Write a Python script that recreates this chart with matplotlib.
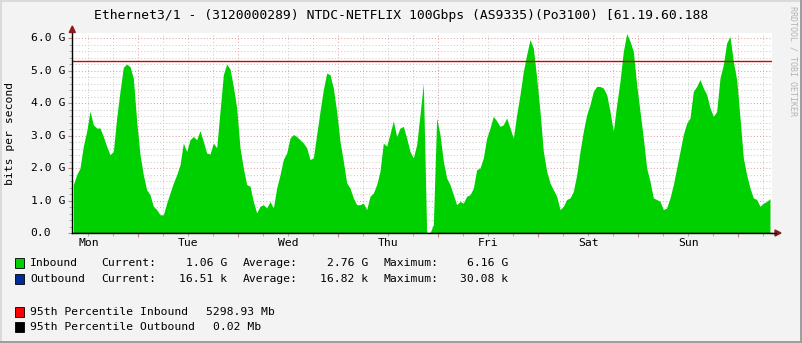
import numpy as np
import matplotlib.pyplot as plt
from matplotlib.patches import Rectangle, Polygon
from matplotlib.lines import Line2D
from matplotlib.transforms import blended_transform_factory

plt.rcParams['font.family'] = ['DejaVu Sans Mono']

# ---- data -------------------------------------------------------------
title = "Ethernet3/1 - (3120000289) NTDC-NETFLIX 100Gbps (AS9335)(Po3100) [61.19.60.188"
day_names = ['Mon', 'Tue', 'Wed', 'Thu', 'Fri', 'Sat', 'Sun']

# inbound traffic in Gbit/s, one sample every 48 min, first sample Mon 08:24
start_hour = 8.4
step_hours = 0.8
inbound_g = [
    1.49, 1.79, 2.00, 2.67, 3.13, 3.75, 3.33, 3.23, 3.23, 2.97,
    2.67, 2.41, 2.51, 3.54, 4.36, 5.10, 5.20, 5.12, 4.77, 3.44,
    2.41, 1.79, 1.33, 1.18, 0.82, 0.72, 0.56, 0.56, 0.92, 1.23,
    1.54, 1.79, 2.10, 2.77, 2.51, 2.87, 2.97, 2.87, 3.15, 2.82,
    2.46, 2.43, 2.77,
    2.62, 3.74, 4.87, 5.20, 5.05, 4.51, 3.85, 2.62, 2.00, 1.49,
    1.44, 0.97, 0.62, 0.82, 0.87, 0.77, 0.97, 0.77, 1.38, 1.79,
    2.26, 2.46, 2.92, 3.03, 2.97, 2.87, 2.77, 2.62, 2.26, 2.31,
    3.03, 3.74, 4.41, 4.92, 4.87, 4.46, 3.74, 2.82, 2.21, 1.54,
    1.38, 1.08,
    0.87, 0.87, 0.92, 0.72, 1.13, 1.23, 1.49, 1.90, 2.77, 2.67,
    3.05, 3.45, 2.97, 3.23, 3.28, 2.92, 2.51, 2.31, 2.72, 3.64,
    4.60, 0.00, 0.00, 0.26, 3.54, 3.03, 2.21, 1.69, 1.49, 1.18,
    0.87, 0.97, 0.92, 1.13, 1.18, 1.38, 1.95, 2.00, 2.31, 2.92,
    3.23, 3.59,
    3.45, 3.28, 3.33, 3.54, 3.23, 2.92, 3.64, 4.26, 4.97, 5.49,
    5.95, 5.69, 4.77, 3.74, 2.51, 1.90, 1.54, 1.33, 1.13, 0.72,
    0.82, 1.03, 1.08, 1.28, 1.79, 2.51, 3.13, 3.64, 3.95, 4.36,
    4.51, 4.51, 4.46, 4.26, 3.74, 3.13, 3.95, 4.67, 5.59, 6.14,
    5.90, 5.59,
    4.56, 3.74, 2.92, 2.00, 1.59, 1.08, 1.03, 0.97, 0.72, 0.77,
    1.08, 1.49, 2.00, 2.51, 3.03, 3.38, 3.54, 4.36, 4.51, 4.72,
    4.46, 4.26, 3.85, 3.59, 3.74, 4.77, 5.18, 5.85, 6.05, 5.28,
    4.72, 3.54, 2.31, 1.79, 1.38, 1.08, 1.03, 0.82, 0.92, 0.97,
    1.06,
]
pct95_in_g = 5.29893
pct95_out_g = 0.00000002

legend_rows = [
    ('#00CF00', 'Inbound', ['1.06 G', '2.76 G', '6.16 G']),
    ('#002A97', 'Outbound', ['16.51 k', '16.82 k', '30.08 k']),
]
pct_rows = [
    ('#FF0000', '95th Percentile Inbound', '5298.93 Mb'),
    ('#000000', '95th Percentile Outbound', '0.02 Mb'),
]

# ---- figure -----------------------------------------------------------
W, H = 803, 343


def fx(x):
    return x / W


def fy(y):
    return 1 - y / H


fig = plt.figure(figsize=(W / 100, H / 100), dpi=100, facecolor='#F3F3F3')
ax = fig.add_axes([fx(72.3), fy(233), 700 / W, 200.5 / H])
ax.set_facecolor('white')

hours = start_hour + step_hours * np.arange(len(inbound_g))
ax.fill_between(hours, 0, inbound_g, color='#00CF00', lw=0, zorder=2)
ax.axhline(pct95_in_g, color='#D80000', lw=1, zorder=3)
ax.axhline(pct95_out_g, color='black', lw=1, zorder=3)

ax.set_xlim(8.15, 176.15)
ax.set_ylim(0, 6.17)
ax.set_xticks(np.arange(24, 169, 24))
ax.set_xticks(np.arange(12, 177, 6), minor=True)
ax.set_yticks(np.arange(0, 7, 1))
ax.set_yticks(np.arange(0, 6.2, 0.2), minor=True)
ax.set_axisbelow(True)
ax.grid(which='minor', color='#CDCDCD', lw=0.75, ls=(0, (1, 2)))
ax.grid(which='major', color='#E6A2A2', lw=0.75, ls=(0, (1, 2)))
ax.tick_params(which='major', length=3, width=0.8, color='#D08080',
               labelleft=False, labelbottom=False)
ax.tick_params(which='minor', length=2, width=0.8, color='#B0B0B0')
for s in ('top', 'right'):
    ax.spines[s].set_visible(False)
for s in ('left', 'bottom'):
    ax.spines[s].set_color('black')
    ax.spines[s].set_linewidth(1)
    ax.spines[s].set_zorder(4)

# axis arrows
arrow_c = '#8B1A1A'
fig.add_artist(Line2D([fx(772), fx(776)], [fy(233), fy(233)], color='black', lw=1))
fig.add_artist(Polygon([(fx(775), fy(230)), (fx(781), fy(233)), (fx(775), fy(236))],
                       closed=True, color=arrow_c, transform=fig.transFigure))
fig.add_artist(Polygon([(fx(69.3), fy(32.5)), (fx(72.3), fy(26)), (fx(75.3), fy(32.5))],
                       closed=True, color=arrow_c, transform=fig.transFigure))

fs = 8.2
# y labels
ty = blended_transform_factory(fig.transFigure, ax.transData)
for v in range(7):
    lab = '0.0' if v == 0 else '%.1f G' % v
    fig.text(fx(30.7), v, lab, transform=ty, ha='left', va='center', fontsize=fs)
# day labels
tx = blended_transform_factory(ax.transData, fig.transFigure)
for i, d in enumerate(day_names):
    fig.text(12 + 24 * i, fy(242.7), d, transform=tx, ha='center', va='center', fontsize=fs)

fig.text(0.5, fy(15), title, ha='center', va='center', fontsize=9.4)
fig.text(fx(10), fy(133), 'bits per second', rotation=90, ha='center', va='center', fontsize=fs)
fig.text(fx(793), fy(61), 'RRDTOOL / TOBI OETIKER', rotation=270, ha='center', va='center',
         fontsize=6, color='#B4B4B4')

# legend
row_y = [263.3, 279.3]
for (c, name, vals), y in zip(legend_rows, row_y):
    fig.add_artist(Rectangle((fx(15), fy(y + 5)), 9 / W, 10 / H, facecolor=c,
                             edgecolor='black', lw=0.6, transform=fig.transFigure))
    fig.text(fx(30), fy(y), name, ha='left', va='center', fontsize=fs)
    for lab, lx, vx, v in zip(['Current:', 'Average:', 'Maximum:'],
                              [101.7, 242.7, 383.3], [227, 368, 508.5], vals):
        fig.text(fx(lx), fy(y), lab, ha='left', va='center', fontsize=fs)
        fig.text(fx(vx), fy(y), v, ha='right', va='center', fontsize=fs)

for (c, name, v), y, vx in zip(pct_rows, [311.7, 327], [206, 213]):
    fig.add_artist(Rectangle((fx(15), fy(y + 5)), 9 / W, 10 / H, facecolor=c,
                             edgecolor='black', lw=0.6, transform=fig.transFigure))
    fig.text(fx(30), fy(y), name, ha='left', va='center', fontsize=fs)
    fig.text(fx(vx), fy(y), v, ha='left', va='center', fontsize=fs)

# frame shading
for (x0, y0, w, h, c) in [(0, 0, W, 2, '#DADADA'), (0, 0, 2, H, '#DADADA'),
                          (0, H - 2, W, 2, '#9E9E9E'), (W - 3, 0, 3, H, '#9E9E9E')]:
    fig.add_artist(Rectangle((fx(x0), fy(y0 + h)), w / W, h / H, facecolor=c,
                             lw=0, transform=fig.transFigure))

fig.savefig('out.png', dpi=100, facecolor=fig.get_facecolor())
